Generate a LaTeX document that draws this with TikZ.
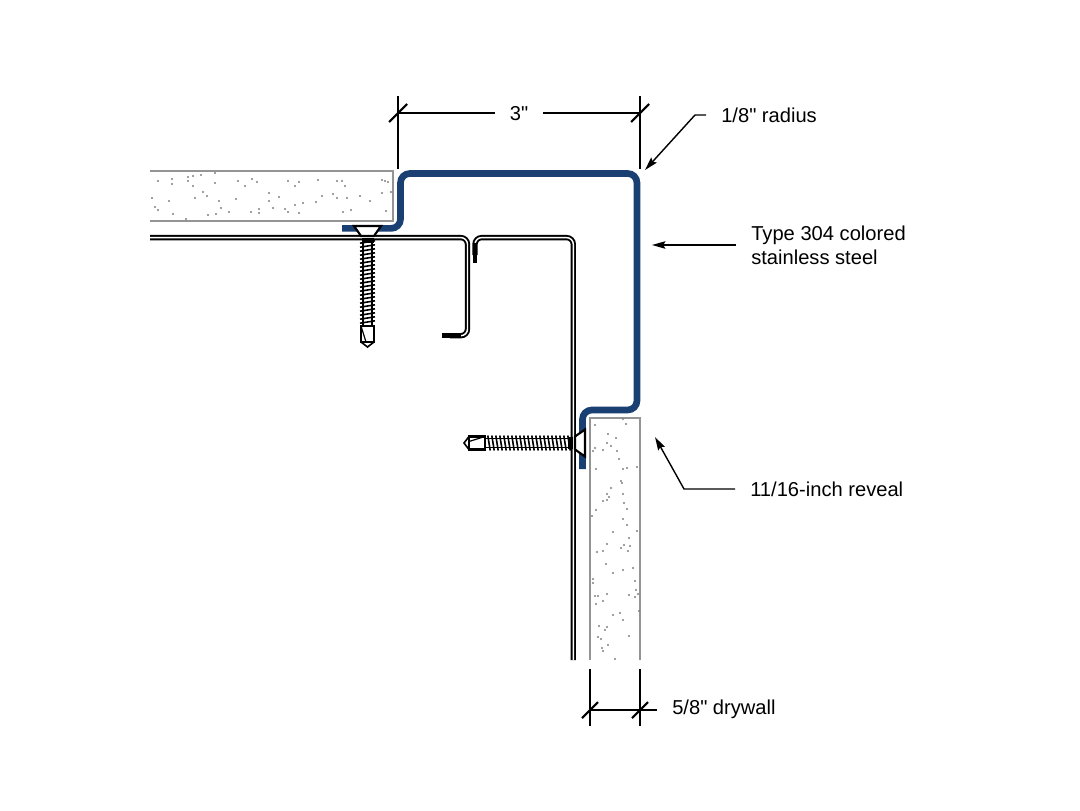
\documentclass[tikz,border=0pt]{standalone}
\usepackage{fontspec}
\newfontfamily\labelfont{Liberation Sans}
\usetikzlibrary{shapes,arrows,arrows.meta,positioning,calc}

\begin{document}
\begin{tikzpicture}[x=0.75pt, y=-0.75pt,
			wall/.style={draw=black!42, line width=1.5pt},
			grain/.style={fill=black!50},
			trim/.style={draw=trimblue, line width=5pt, rounded corners=7pt},
			stud/.style={draw=black, line width=1.45pt, double=white, double distance=1.1pt, rounded corners=5pt},
			studend/.style={draw=black, line width=3.6pt},
			dim/.style={draw=black, line width=1.6pt},
			leader/.style={draw=black, line width=1.05pt, -{Stealth[length=10pt, width=5.6pt, inset=1.5pt]}},
			callout/.style={inner ysep=0pt, inner xsep=11.25pt, anchor=west, align=left, font=\labelfont\fontsize{15.1}{18}\selectfont},
			screw/.pic={
				\draw[black, line width=1.6pt, fill=white] (-13.5,0) -- (13.5,0) -- (6.5,10) -- (-6.5,10) -- cycle;
				\fill[black] (-6,12) rectangle (6,17);
				\draw[black, line width=1.1pt] (-4.5,14) -- (-4.5,100) (4.5,14) -- (4.5,100);
				\foreach \t in {16,20,...,98}
				\draw[black, line width=1.2pt] (-7.5,\t+1.2) -- (7.5,\t-1.2);
				\draw[black, line width=1.6pt, fill=white] (-6.5,100) rectangle (6.5,116);
				\draw[black, line width=0.9pt] (-6.5,100) -- (-1.5,116);
				\draw[black, line width=1.2pt] (-6.5,116) -- (0,121) -- (6.5,116);
			}]
			\definecolor{trimblue}{HTML}{1A3F72}
			\useasboundingbox (0,0) rectangle (1080,810);
			
			% Drywall, ceiling
			\draw[wall] (150,171) -- (393,171) -- (393,221) -- (150,221);
			\foreach \x/\y in {158/181,172/179,172/184,188/177,188/181,193/176,201/175,215/173,215/183,193/186,
				238/181,245/186,252/179,257/182,288/181,299/182,295/186,318/180,337/181,342/181,345/186,382/180,
				385/181,388/182,152/198,169/201,155/207,158/210,173/214,186/219,203/192,207/196,195/198,219/201,
				236/199,269/193,279/197,269/201,295/205,303/203,322/196,316/202,333/194,337/198,347/198,360/196,
				370/201,382/193,391/192,208/215,216/214,221/208,229/212,251/212,259/209,259/213,273/208,285/209,
				288/212,299/213,343/212,351/210,386/211}
			\fill[grain] (\x,\y) circle (0.85pt);
			
			% Drywall, wall
			\draw[wall] (590,660) -- (590,418) -- (640,418) -- (640,660);
			\foreach \x/\y in {595/425,623/419,626/424,608/434,616/438,607/443,611/446,595/448,593/451,603/450,
				617/451,619/459,596/469,623/469,627/468,637/467,621/481,622/483,611/488,623/494,607/494,609/497,
				607/500,603/501,624/503,627/509,596/510,592/516,623/519,627/525,637/531,613/532,629/538,607/544,
				630/546,624/545,621/548,628/551,603/551,597/552,606/564,633/568,623/570,613/573,635/581,593/579,
				593/583,636/590,638/594,629/595,635/597,607/594,595/596,598/596,603/601,596/604,639/611,620/613,
				613/615,623/620,599/626,607/627,605/630,629/636,598/637,601/639,608/645,602/648,603/651,615/659}
			\fill[grain] (\x,\y) circle (0.85pt);
			
			% Metal framing
			\draw[stud] (150,237.6) -- (467.5,237.6) -- (467.5,335.7) -- (450,335.7);
			\draw[studend] (442,335.7) -- (461,335.7);
			\draw[stud] (475,255) -- (475,237.6) -- (573.3,237.6) -- (573.3,660);
			\draw[studend] (475,243) -- (475,263);
			
			% Trim
			\draw[trim] (342,228.4) -- (400.5,228.4) -- (400.5,173.5) -- (637,173.5) -- (637,410) -- (582.5,410) -- (582.5,469);
			
			% Screws
			\pic at (367.5,226) {screw};
			\pic[rotate=-90] at (585,443) {screw};
			
			% 3 inch width
			\coordinate (W1) at (398,113);
			\coordinate (W2) at (640,113);
			\node[inner sep=0pt, minimum width=36pt, font=\labelfont\fontsize{15.1}{18}\selectfont] (widthlabel) at (519,114) {3"};
			\draw[dim] (W1) -- (widthlabel.west |- W1);
			\draw[dim] (widthlabel.east |- W2) -- (W2);
			\draw[dim] ($(W1)+(0,-17)$) -- ($(W1)+(0,56)$);
			\draw[dim] ($(W2)+(0,-17)$) -- ($(W2)+(0,56)$);
			\draw[dim] ($(W1)+(-9,9)$) -- ($(W1)+(9,-9)$);
			\draw[dim] ($(W2)+(-9,9)$) -- ($(W2)+(9,-9)$);
			
			% 5/8 drywall
			\coordinate (D1) at (590,710);
			\coordinate (D2) at (640,710);
			\node[callout] (drywalllabel) at (657,709.5) {5/8" drywall};
			\draw[dim] (D1) -- (drywalllabel.west |- D1);
			\draw[dim] ($(D1)+(0,-41)$) -- ($(D1)+(0,16)$);
			\draw[dim] ($(D2)+(0,-41)$) -- ($(D2)+(0,16)$);
			\draw[dim] ($(D1)+(-8,8)$) -- ($(D1)+(8,-8)$);
			\draw[dim] ($(D2)+(-8,8)$) -- ($(D2)+(8,-8)$);
			
			% Callouts
			\node[callout] (radiuslabel) at (706,115) {1/8" radius};
			\coordinate (R1) at (695,115);
			\coordinate (R2) at (645,170);
			\draw[leader] (radiuslabel.west) -- (R1) -- (R2);
			
			\node[callout] (steellabel) at (736,245) {Type 304 colored\\stainless steel};
			\coordinate (S1) at (652,245);
			\draw[leader] (steellabel.west) -- (S1);
			
			\node[callout] (reveallabel) at (735,489) {11/16-inch reveal};
			\coordinate (V1) at (684,489);
			\coordinate (V2) at (655,437);
			\draw[leader] (reveallabel.west) -- (V1) -- (V2);
		\end{tikzpicture}
\end{document}
